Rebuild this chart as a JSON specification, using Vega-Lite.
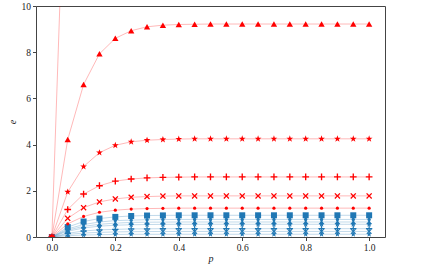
{
"$schema": "https://vega.github.io/schema/vega-lite/v6.json",
"width": 349, "height": 231,
"autosize": {"type": "none"},
"padding": {"left": 36, "top": 6, "right": 46, "bottom": 28},
"config": {
  "view": {"stroke": "#444", "strokeWidth": 1},
  "font": "Liberation Serif",
  "axis": {"domain": false, "grid": false, "tickColor": "#444", "tickSize": 3.5, "labelPadding": 2,
    "labelFont": "Liberation Serif", "labelFontSize": 9.5, "labelColor": "#222",
    "titleFont": "Liberation Serif", "titleFontSize": 10, "titleFontStyle": "italic", "titleFontWeight": "normal", "titleColor": "#222"}
},
"data": {"values": [
{"s":"b7","p":0,"e":0},{"s":"b7","p":0.05,"e":0.055},{"s":"b7","p":0.1,"e":0.085},{"s":"b7","p":0.15,"e":0.1},{"s":"b7","p":0.2,"e":0.11},{"s":"b7","p":0.25,"e":0.116},{"s":"b7","p":0.3,"e":0.118},{"s":"b7","p":0.35,"e":0.119},{"s":"b7","p":0.4,"e":0.12},{"s":"b7","p":0.45,"e":0.12},{"s":"b7","p":0.5,"e":0.12},{"s":"b7","p":0.55,"e":0.12},{"s":"b7","p":0.6,"e":0.12},{"s":"b7","p":0.65,"e":0.12},{"s":"b7","p":0.7,"e":0.12},{"s":"b7","p":0.75,"e":0.12},{"s":"b7","p":0.8,"e":0.12},{"s":"b7","p":0.85,"e":0.12},{"s":"b7","p":0.9,"e":0.12},{"s":"b7","p":0.95,"e":0.12},{"s":"b7","p":1.0,"e":0.12},
{"s":"b6","p":0,"e":0},{"s":"b6","p":0.05,"e":0.11},{"s":"b6","p":0.1,"e":0.17},{"s":"b6","p":0.15,"e":0.2},{"s":"b6","p":0.2,"e":0.22},{"s":"b6","p":0.25,"e":0.23},{"s":"b6","p":0.3,"e":0.236},{"s":"b6","p":0.35,"e":0.239},{"s":"b6","p":0.4,"e":0.24},{"s":"b6","p":0.45,"e":0.24},{"s":"b6","p":0.5,"e":0.24},{"s":"b6","p":0.55,"e":0.24},{"s":"b6","p":0.6,"e":0.24},{"s":"b6","p":0.65,"e":0.24},{"s":"b6","p":0.7,"e":0.24},{"s":"b6","p":0.75,"e":0.24},{"s":"b6","p":0.8,"e":0.24},{"s":"b6","p":0.85,"e":0.24},{"s":"b6","p":0.9,"e":0.24},{"s":"b6","p":0.95,"e":0.24},{"s":"b6","p":1.0,"e":0.24},
{"s":"b5","p":0,"e":0},{"s":"b5","p":0.05,"e":0.16},{"s":"b5","p":0.1,"e":0.26},{"s":"b5","p":0.15,"e":0.31},{"s":"b5","p":0.2,"e":0.33},{"s":"b5","p":0.25,"e":0.35},{"s":"b5","p":0.3,"e":0.355},{"s":"b5","p":0.35,"e":0.358},{"s":"b5","p":0.4,"e":0.36},{"s":"b5","p":0.45,"e":0.36},{"s":"b5","p":0.5,"e":0.36},{"s":"b5","p":0.55,"e":0.36},{"s":"b5","p":0.6,"e":0.36},{"s":"b5","p":0.65,"e":0.36},{"s":"b5","p":0.7,"e":0.36},{"s":"b5","p":0.75,"e":0.36},{"s":"b5","p":0.8,"e":0.36},{"s":"b5","p":0.85,"e":0.36},{"s":"b5","p":0.9,"e":0.36},{"s":"b5","p":0.95,"e":0.36},{"s":"b5","p":1.0,"e":0.36},
{"s":"b4","p":0,"e":0},{"s":"b4","p":0.05,"e":0.25},{"s":"b4","p":0.1,"e":0.39},{"s":"b4","p":0.15,"e":0.47},{"s":"b4","p":0.2,"e":0.51},{"s":"b4","p":0.25,"e":0.53},{"s":"b4","p":0.3,"e":0.54},{"s":"b4","p":0.35,"e":0.547},{"s":"b4","p":0.4,"e":0.55},{"s":"b4","p":0.45,"e":0.55},{"s":"b4","p":0.5,"e":0.55},{"s":"b4","p":0.55,"e":0.55},{"s":"b4","p":0.6,"e":0.55},{"s":"b4","p":0.65,"e":0.55},{"s":"b4","p":0.7,"e":0.55},{"s":"b4","p":0.75,"e":0.55},{"s":"b4","p":0.8,"e":0.55},{"s":"b4","p":0.85,"e":0.55},{"s":"b4","p":0.9,"e":0.55},{"s":"b4","p":0.95,"e":0.55},{"s":"b4","p":1.0,"e":0.55},
{"s":"b3","p":0,"e":0},{"s":"b3","p":0.05,"e":0.3},{"s":"b3","p":0.1,"e":0.46},{"s":"b3","p":0.15,"e":0.55},{"s":"b3","p":0.2,"e":0.6},{"s":"b3","p":0.25,"e":0.63},{"s":"b3","p":0.3,"e":0.64},{"s":"b3","p":0.35,"e":0.645},{"s":"b3","p":0.4,"e":0.65},{"s":"b3","p":0.45,"e":0.65},{"s":"b3","p":0.5,"e":0.65},{"s":"b3","p":0.55,"e":0.65},{"s":"b3","p":0.6,"e":0.65},{"s":"b3","p":0.65,"e":0.65},{"s":"b3","p":0.7,"e":0.65},{"s":"b3","p":0.75,"e":0.65},{"s":"b3","p":0.8,"e":0.65},{"s":"b3","p":0.85,"e":0.65},{"s":"b3","p":0.9,"e":0.65},{"s":"b3","p":0.95,"e":0.65},{"s":"b3","p":1.0,"e":0.65},
{"s":"b2","p":0,"e":0},{"s":"b2","p":0.05,"e":0.35},{"s":"b2","p":0.1,"e":0.54},{"s":"b2","p":0.15,"e":0.65},{"s":"b2","p":0.2,"e":0.71},{"s":"b2","p":0.25,"e":0.73},{"s":"b2","p":0.3,"e":0.75},{"s":"b2","p":0.35,"e":0.755},{"s":"b2","p":0.4,"e":0.76},{"s":"b2","p":0.45,"e":0.76},{"s":"b2","p":0.5,"e":0.76},{"s":"b2","p":0.55,"e":0.76},{"s":"b2","p":0.6,"e":0.76},{"s":"b2","p":0.65,"e":0.76},{"s":"b2","p":0.7,"e":0.76},{"s":"b2","p":0.75,"e":0.76},{"s":"b2","p":0.8,"e":0.76},{"s":"b2","p":0.85,"e":0.76},{"s":"b2","p":0.9,"e":0.76},{"s":"b2","p":0.95,"e":0.76},{"s":"b2","p":1.0,"e":0.76},
{"s":"b1","p":0,"e":0},{"s":"b1","p":0.05,"e":0.43},{"s":"b1","p":0.1,"e":0.67},{"s":"b1","p":0.15,"e":0.8},{"s":"b1","p":0.2,"e":0.87},{"s":"b1","p":0.25,"e":0.91},{"s":"b1","p":0.3,"e":0.93},{"s":"b1","p":0.35,"e":0.935},{"s":"b1","p":0.4,"e":0.94},{"s":"b1","p":0.45,"e":0.94},{"s":"b1","p":0.5,"e":0.94},{"s":"b1","p":0.55,"e":0.94},{"s":"b1","p":0.6,"e":0.94},{"s":"b1","p":0.65,"e":0.94},{"s":"b1","p":0.7,"e":0.94},{"s":"b1","p":0.75,"e":0.94},{"s":"b1","p":0.8,"e":0.94},{"s":"b1","p":0.85,"e":0.94},{"s":"b1","p":0.9,"e":0.94},{"s":"b1","p":0.95,"e":0.94},{"s":"b1","p":1.0,"e":0.94},
{"s":"r5","p":0,"e":0},{"s":"r5","p":0.05,"e":0.57},{"s":"r5","p":0.1,"e":0.89},{"s":"r5","p":0.15,"e":1.07},{"s":"r5","p":0.2,"e":1.16},{"s":"r5","p":0.25,"e":1.21},{"s":"r5","p":0.3,"e":1.23},{"s":"r5","p":0.35,"e":1.24},{"s":"r5","p":0.4,"e":1.25},{"s":"r5","p":0.45,"e":1.25},{"s":"r5","p":0.5,"e":1.25},{"s":"r5","p":0.55,"e":1.25},{"s":"r5","p":0.6,"e":1.25},{"s":"r5","p":0.65,"e":1.25},{"s":"r5","p":0.7,"e":1.25},{"s":"r5","p":0.75,"e":1.25},{"s":"r5","p":0.8,"e":1.25},{"s":"r5","p":0.85,"e":1.25},{"s":"r5","p":0.9,"e":1.25},{"s":"r5","p":0.95,"e":1.25},{"s":"r5","p":1.0,"e":1.25},
{"s":"r4","p":0,"e":0},{"s":"r4","p":0.05,"e":0.81},{"s":"r4","p":0.1,"e":1.27},{"s":"r4","p":0.15,"e":1.52},{"s":"r4","p":0.2,"e":1.65},{"s":"r4","p":0.25,"e":1.72},{"s":"r4","p":0.3,"e":1.75},{"s":"r4","p":0.35,"e":1.77},{"s":"r4","p":0.4,"e":1.78},{"s":"r4","p":0.45,"e":1.78},{"s":"r4","p":0.5,"e":1.78},{"s":"r4","p":0.55,"e":1.78},{"s":"r4","p":0.6,"e":1.78},{"s":"r4","p":0.65,"e":1.78},{"s":"r4","p":0.7,"e":1.78},{"s":"r4","p":0.75,"e":1.78},{"s":"r4","p":0.8,"e":1.78},{"s":"r4","p":0.85,"e":1.78},{"s":"r4","p":0.9,"e":1.78},{"s":"r4","p":0.95,"e":1.78},{"s":"r4","p":1.0,"e":1.78},
{"s":"r3","p":0,"e":0},{"s":"r3","p":0.05,"e":1.19},{"s":"r3","p":0.1,"e":1.86},{"s":"r3","p":0.15,"e":2.22},{"s":"r3","p":0.2,"e":2.42},{"s":"r3","p":0.25,"e":2.51},{"s":"r3","p":0.3,"e":2.56},{"s":"r3","p":0.35,"e":2.58},{"s":"r3","p":0.4,"e":2.59},{"s":"r3","p":0.45,"e":2.6},{"s":"r3","p":0.5,"e":2.6},{"s":"r3","p":0.55,"e":2.6},{"s":"r3","p":0.6,"e":2.6},{"s":"r3","p":0.65,"e":2.6},{"s":"r3","p":0.7,"e":2.6},{"s":"r3","p":0.75,"e":2.6},{"s":"r3","p":0.8,"e":2.6},{"s":"r3","p":0.85,"e":2.6},{"s":"r3","p":0.9,"e":2.6},{"s":"r3","p":0.95,"e":2.6},{"s":"r3","p":1.0,"e":2.6},
{"s":"r2","p":0,"e":0},{"s":"r2","p":0.05,"e":1.95},{"s":"r2","p":0.1,"e":3.05},{"s":"r2","p":0.15,"e":3.65},{"s":"r2","p":0.2,"e":3.97},{"s":"r2","p":0.25,"e":4.12},{"s":"r2","p":0.3,"e":4.19},{"s":"r2","p":0.35,"e":4.22},{"s":"r2","p":0.4,"e":4.24},{"s":"r2","p":0.45,"e":4.25},{"s":"r2","p":0.5,"e":4.25},{"s":"r2","p":0.55,"e":4.25},{"s":"r2","p":0.6,"e":4.25},{"s":"r2","p":0.65,"e":4.25},{"s":"r2","p":0.7,"e":4.25},{"s":"r2","p":0.75,"e":4.25},{"s":"r2","p":0.8,"e":4.25},{"s":"r2","p":0.85,"e":4.25},{"s":"r2","p":0.9,"e":4.25},{"s":"r2","p":0.95,"e":4.25},{"s":"r2","p":1.0,"e":4.25},
{"s":"r1","p":0,"e":0},{"s":"r1","p":0.05,"e":4.22},{"s":"r1","p":0.1,"e":6.6},{"s":"r1","p":0.15,"e":7.93},{"s":"r1","p":0.2,"e":8.6},{"s":"r1","p":0.25,"e":8.93},{"s":"r1","p":0.3,"e":9.1},{"s":"r1","p":0.35,"e":9.17},{"s":"r1","p":0.4,"e":9.2},{"s":"r1","p":0.45,"e":9.21},{"s":"r1","p":0.5,"e":9.22},{"s":"r1","p":0.55,"e":9.22},{"s":"r1","p":0.6,"e":9.22},{"s":"r1","p":0.65,"e":9.22},{"s":"r1","p":0.7,"e":9.22},{"s":"r1","p":0.75,"e":9.22},{"s":"r1","p":0.8,"e":9.22},{"s":"r1","p":0.85,"e":9.22},{"s":"r1","p":0.9,"e":9.22},{"s":"r1","p":0.95,"e":9.22},{"s":"r1","p":1.0,"e":9.22},
{"s":"r0","p":0,"e":0},{"s":"r0","p":0.05,"e":20},{"s":"r0","p":0.1,"e":31.3},{"s":"r0","p":0.15,"e":37.5},{"s":"r0","p":0.2,"e":40.8},{"s":"r0","p":0.25,"e":42.5},{"s":"r0","p":0.3,"e":43.3},{"s":"r0","p":0.35,"e":43.7},{"s":"r0","p":0.4,"e":43.9},{"s":"r0","p":0.45,"e":44},{"s":"r0","p":0.5,"e":44},{"s":"r0","p":0.55,"e":44},{"s":"r0","p":0.6,"e":44},{"s":"r0","p":0.65,"e":44},{"s":"r0","p":0.7,"e":44},{"s":"r0","p":0.75,"e":44},{"s":"r0","p":0.8,"e":44},{"s":"r0","p":0.85,"e":44},{"s":"r0","p":0.9,"e":44},{"s":"r0","p":0.95,"e":44},{"s":"r0","p":1.0,"e":44}
]},
"encoding": {
  "x": {"field": "p", "type": "quantitative", "scale": {"domain": [-0.05, 1.05], "nice": false, "zero": false},
        "axis": {"values": [0, 0.2, 0.4, 0.6, 0.8, 1.0], "format": ".1f", "title": "p", "titlePadding": 1}},
  "y": {"field": "e", "type": "quantitative", "scale": {"domain": [0, 10], "nice": false},
        "axis": {"values": [0, 2, 4, 6, 8, 10], "title": "e", "titlePadding": 4}},
  "color": {"field": "s", "type": "nominal", "legend": null,
    "scale": {"domain": ["r0","r1","r2","r3","r4","r5","b1","b2","b3","b4","b5","b6","b7"],
              "range": ["#ff0000","#ff0000","#ff0000","#ff0000","#ff0000","#ff0000","#1f77b4","#1f77b4","#1f77b4","#1f77b4","#1f77b4","#1f77b4","#1f77b4"]}}
},
"layer": [
  {"mark": {"type": "line", "clip": true, "strokeWidth": 1, "opacity": 0.28}},
  {"transform": [{"filter": "datum.s != 'r0'"}],
   "mark": {"type": "point", "filled": true, "clip": true, "opacity": 1},
   "encoding": {
     "shape": {"field": "s", "type": "nominal", "legend": null,
       "scale": {"domain": ["r1","r2","r3","r4","r5","b1","b2","b3","b4","b5","b6","b7"],
         "range": ["triangle-up",
           "M0,-1L0.235,-0.324L0.951,-0.309L0.380,0.124L0.588,0.809L0,0.4L-0.588,0.809L-0.380,0.124L-0.951,-0.309L-0.235,-0.324Z",
           "M-0.2,-1H0.2V-0.2H1V0.2H0.2V1H-0.2V0.2H-1V-0.2H-0.2Z",
           "M-1,-0.7L-0.7,-1L0,-0.3L0.7,-1L1,-0.7L0.3,0L1,0.7L0.7,1L0,0.3L-0.7,1L-1,0.7L-0.3,0Z",
           "circle", "square", "circle", "triangle-up",
           "M0,-1L0.235,-0.324L0.951,-0.309L0.380,0.124L0.588,0.809L0,0.4L-0.588,0.809L-0.380,0.124L-0.951,-0.309L-0.235,-0.324Z",
           "M-0.2,-1H0.2V-0.2H1V0.2H0.2V1H-0.2V0.2H-1V-0.2H-0.2Z",
           "M-1,-0.7L-0.7,-1L0,-0.3L0.7,-1L1,-0.7L0.3,0L1,0.7L0.7,1L0,0.3L-0.7,1L-1,0.7L-0.3,0Z",
           "M0,-1L0.235,-0.324L0.951,-0.309L0.380,0.124L0.588,0.809L0,0.4L-0.588,0.809L-0.380,0.124L-0.951,-0.309L-0.235,-0.324Z"]}},
     "size": {"field": "s", "type": "nominal", "legend": null,
       "scale": {"type": "ordinal", "domain": ["r1","r2","r3","r4","r5","b1","b2","b3","b4","b5","b6","b7"],
                 "range": [40, 50, 45, 36, 10, 36, 12, 28, 40, 40, 28, 36]}}
   }}
]
}
